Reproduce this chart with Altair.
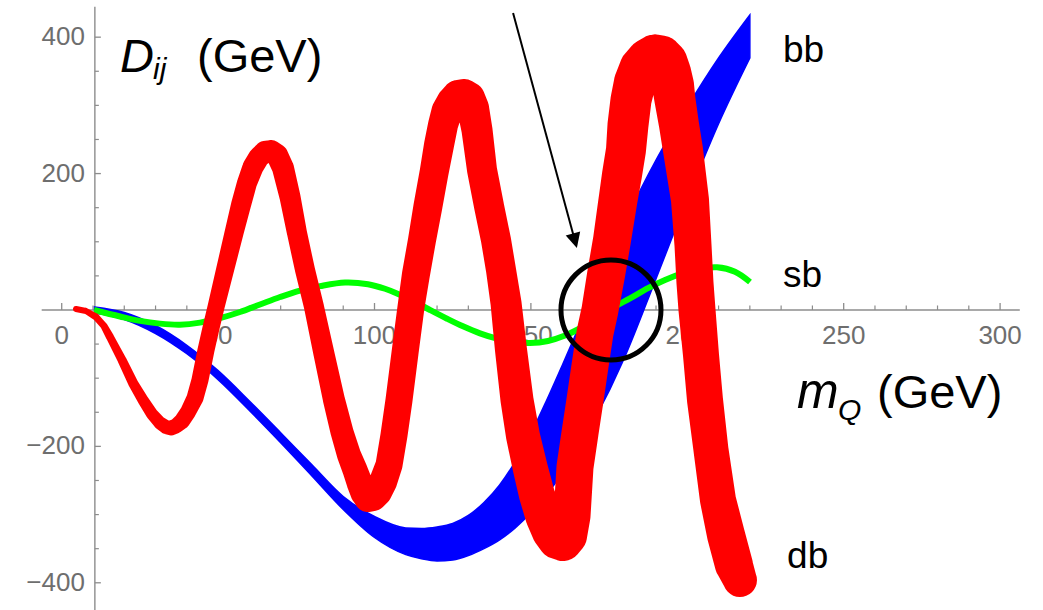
import math
import altair as alt
import pandas as pd

# ---------------- curve data ----------------
# sb : single thin curve
SB_X = [10.33, 18.64, 25.03, 31.43, 37.82, 44.21, 50.61, 57.0, 63.39, 69.79, 76.18, 82.58,
        90.57, 97.92, 103.36, 107.19, 112.31, 117.74, 123.18, 128.29, 133.73, 139.16, 144.28,
        149.71, 155.47, 160.9, 166.66, 172.09, 176.88, 181.68, 187.44, 192.87, 198.63,
        204.07, 209.5, 215.25, 220.05]
SB_Y = [0, -9.5, -16.0, -20.0, -21.5, -18.5, -12.0, -3.0, 8.0, 19.0, 28.5, 35.0,
        40.3, 37.8, 31.1, 24.3, 13.2, 0, -12.8, -24.0, -34.2, -42.0, -46.7,
        -48.4, -45.4, -37.4, -24.6, -9.5, 5.0, 17.0, 32.0, 44.0, 54.0,
        60.5, 62.5, 56.0, 41.0]

# bb : band between an upper and a lower edge
BB_X = [10.5, 20, 30, 40, 50, 60, 70, 80, 90, 100, 110, 115, 120, 125, 130, 135, 140, 145,
        150, 155, 160, 170, 180, 190, 200, 210, 220]
BB_HI = [4.4, -3.7, -22.7, -51.7, -89.0, -133.4, -179.9, -227.1, -273.5, -302.8, -319.6,
         -320.3, -318.1, -313.0, -301.3, -282.3, -256.6, -222.2, -181.2, -132.8, -81.4,
         24.9, 129.0, 219.9, 297.7, 369.5, 432.6]
BB_LO = [-4.4, -13.9, -34.5, -64.2, -102.2, -147.4, -194.6, -243.3, -292.5, -333.6, -358.7,
         -364.8, -368.1, -366.6, -360.1, -349.8, -336.9, -319.4, -297.4, -270.9, -239.5,
         -163.4, -69.1, 45.9, 162.9, 273.1, 369.5]

# db : band drawn as a trail (centre line and band width in pixels)
DB_X = [4.57, 7.77, 10.97, 13.52, 15.44, 19.28, 22.79, 25.99, 28.87, 31.43, 33.34, 34.94,
        36.54, 38.46, 40.38, 42.62, 44.21, 46.13, 47.73, 49.33, 52.21, 55.08, 57.32, 59.24,
        61.16, 63.08, 65.0, 66.91, 68.83, 70.75, 72.99, 75.22, 77.78, 80.66, 83.86, 87.05,
        89.61, 91.85, 93.77, 95.36, 96.64, 97.92, 99.52, 101.12, 102.72, 104.64, 106.24,
        107.84, 109.75, 111.67, 113.27, 115.19, 117.1, 119.02, 120.62, 121.9, 123.18,
        124.78, 126.69, 128.61, 130.21, 131.49, 132.77, 134.37, 136.6, 138.84, 140.44,
        142.04, 143.64, 145.56, 147.47, 149.71, 151.95, 154.19, 156.43, 158.35, 160.26,
        161.86, 163.14, 164.1, 165.7, 167.3, 168.89, 170.49, 172.09, 174.01, 175.93,
        177.85, 179.12, 180.4, 181.04, 182.0, 183.28, 185.2, 187.44, 189.67, 191.59,
        193.19, 194.47, 195.43, 196.07, 197.35, 198.63, 200.86, 201.82, 202.46, 203.1,
        204.38, 205.66, 207.58, 209.81, 212.37, 214.93, 216.84]
DB_Y = [1.5, -1.5, -10.3, -23.5, -39.6, -73.3, -107.0, -132.0, -152.5, -165.7, -171.6, -173.0,
        -170.1, -162.8, -149.6, -129.0, -102.6, -58.7, -26.4, 4.4, 58.7, 112.9, 154.0, 186.2,
        209.7, 224.3, 231.7, 233.1, 227.3, 208.2, 165.7, 112.9, 58.7, 4.4, -64.5, -132.0,
        -178.9, -212.6, -234.6, -255.1, -268.3, -275.7, -274.2, -266.9, -252.2, -227.3, -183.3,
        -132.0, -63.1, 4.4, 52.8, 102.6, 152.5, 200.9, 241.9, 271.3, 291.8,
        305.0, 313.8, 315.3, 310.9, 296.2, 263.9, 205.3, 152.5, 102.6, 58.7,
        10.3, -58.7, -132.0, -184.8, -230.2, -271.3, -303.5, -325.5, -337.3, -340.2,
        -331.4, -302.1, -230.2, -180.4, -132.0, -82.1, -33.7, 0.0, 51.3, 102.6,
        161.3, 198.0, 234.6, 271.3, 307.9, 334.3, 354.8, 366.6, 372.4, 371.0,
        363.7, 349.0, 329.9, 307.9, 271.3, 234.6, 161.3, 95.3, 39.6, 0.0,
        -66.0, -132.0, -205.3, -278.6, -329.9, -373.9, -395.9]
DB_W = [6, 6, 7, 7, 8, 9, 10, 11, 12, 13, 14, 15,
        15, 16, 16, 17, 17, 17, 17, 17, 18, 19, 20, 20,
        21, 21, 22, 22, 22, 22, 21, 20, 20, 20, 21, 22,
        23, 24, 25, 26, 27, 28, 28, 28, 28, 27, 27,
        27, 27, 27, 28, 28, 29, 29, 30, 30, 31,
        31, 32, 32, 32, 32, 31, 30, 30, 30, 30,
        31, 32, 33, 34, 35, 36, 37, 38, 38, 38,
        38, 37, 37, 37, 37, 37, 37, 37, 38, 38,
        39, 40, 40, 41, 41, 42, 43, 43, 43, 43,
        43, 42, 42, 41, 40, 40, 38, 37, 37, 37,
        36, 36, 35, 36, 38, 38, 34]

# ---------------- axes ----------------
X_MAJOR = [0, 50, 100, 150, 200, 250, 300]
X_MAJOR_LABELS = ["0", "50", "100", "150", "200", "250", "300"]
X_MINOR = [10, 20, 30, 40, 60, 70, 80, 90, 110, 120, 130, 140, 160, 170, 180, 190,
           210, 220, 230, 240, 260, 270, 280, 290]
Y_MAJOR = [-400, -200, 200, 400]
Y_MAJOR_LABELS = ["\u2212400", "\u2212200", "200", "400"]
Y_MINOR = [-350, -300, -250, -150, -100, -50, 50, 100, 150, 250, 300, 350]

AXIS_X0 = 10.6                 # mQ at which the vertical axis sits
X_AXIS_SPAN = [-6.4, 306.3]
Y_AXIS_SPAN = [-440.0, 444.5]

X_DOMAIN = [-19.73, 313.72]
Y_DOMAIN = [-439.9, 454.5]
W, H = 1043, 610

# curve names
NAMES = ["bb", "sb", "db"]
NAME_X = [230.6, 230.6, 231.9]
NAME_Y = [363.6, 33.7, -378.3]

# arrow and ring
ARROW_FROM = (144.3, 435.5)
ARROW_TO = (164.7, 90.9)
RING_AT = (175.6, 0.0)

FONT = "Liberation Sans"
AXIS_GREY = "#8c8c8c"
LABEL_GREY = "#6e6e6e"

xs = alt.Scale(domain=X_DOMAIN, nice=False, zero=False)
ys = alt.Scale(domain=Y_DOMAIN, nice=False, zero=False)


def X(field):
    return alt.X(field, type="quantitative", scale=xs, axis=None)


def Y(field):
    return alt.Y(field, type="quantitative", scale=ys, axis=None)


# axis lines
axis_df = pd.DataFrame({
    "x": [X_AXIS_SPAN[0], AXIS_X0], "x2": [X_AXIS_SPAN[1], AXIS_X0],
    "y": [0.0, Y_AXIS_SPAN[0]], "y2": [0.0, Y_AXIS_SPAN[1]],
})
axis_lines = alt.Chart(axis_df).mark_rule(color=AXIS_GREY, strokeWidth=1.4).encode(
    x=X("x"), x2="x2", y=Y("y"), y2="y2")

xt_major = alt.Chart(pd.DataFrame({"x": X_MAJOR, "y": 0.0})).mark_tick(
    orient="vertical", size=7, thickness=1.3, yOffset=-3.5, color=AXIS_GREY, opacity=1
).encode(x=X("x"), y=Y("y"))
xt_minor = alt.Chart(pd.DataFrame({"x": X_MINOR, "y": 0.0})).mark_tick(
    orient="vertical", size=4.5, thickness=1.2, yOffset=-2.25, color=AXIS_GREY, opacity=1
).encode(x=X("x"), y=Y("y"))
yt_major = alt.Chart(pd.DataFrame({"y": Y_MAJOR, "x": AXIS_X0})).mark_tick(
    orient="horizontal", size=6, thickness=1.3, xOffset=3, color=AXIS_GREY, opacity=1
).encode(x=X("x"), y=Y("y"))
yt_minor = alt.Chart(pd.DataFrame({"y": Y_MINOR, "x": AXIS_X0})).mark_tick(
    orient="horizontal", size=4, thickness=1.2, xOffset=2, color=AXIS_GREY, opacity=1
).encode(x=X("x"), y=Y("y"))

x_labels = alt.Chart(pd.DataFrame({"x": X_MAJOR, "y": 0.0, "t": X_MAJOR_LABELS})).mark_text(
    font=FONT, fontSize=26, color=LABEL_GREY, baseline="middle", align="center", dy=26
).encode(x=X("x"), y=Y("y"), text="t:N")
y_labels = alt.Chart(pd.DataFrame({"y": Y_MAJOR, "x": AXIS_X0, "t": Y_MAJOR_LABELS})).mark_text(
    font=FONT, fontSize=26, color=LABEL_GREY, baseline="middle", align="right", dx=-10
).encode(x=X("x"), y=Y("y"), text="t:N")

# curves
bb_df = pd.DataFrame({"x": BB_X, "hi": BB_HI, "lo": BB_LO})
bb = alt.Chart(bb_df).mark_area(
    color="#0000ff", interpolate="monotone", stroke="#0000ff", strokeWidth=1.5, opacity=1
).encode(x=X("x"), y=Y("hi"), y2="lo")

sb_df = pd.DataFrame({"x": SB_X, "y": SB_Y})
sb = alt.Chart(sb_df).mark_line(
    color="#00ff00", strokeWidth=6, interpolate="catmull-rom"
).encode(x=X("x"), y=Y("y"))

db_df = pd.DataFrame({"x": DB_X, "y": DB_Y, "w": DB_W, "i": list(range(len(DB_X)))})
db = alt.Chart(db_df).mark_trail(color="#ff0000", opacity=1).encode(
    x=X("x"), y=Y("y"), size=alt.Size("w:Q", scale=None), order="i:Q")

# curve names
names = alt.Chart(pd.DataFrame({"x": NAME_X, "y": NAME_Y, "t": NAMES})).mark_text(
    font=FONT, fontSize=37, color="black", align="left", baseline="alphabetic"
).encode(x=X("x"), y=Y("y"), text="t:N")

# arrow
fx, fy = ARROW_FROM
tx, ty = ARROW_TO
px_x = W / (X_DOMAIN[1] - X_DOMAIN[0])
px_y = H / (Y_DOMAIN[1] - Y_DOMAIN[0])
dxp, dyp = (tx - fx) * px_x, (fy - ty) * px_y
shaft_frac = 1 - 10.0 / math.hypot(dxp, dyp)
arrow_df = pd.DataFrame({"x": [fx], "y": [fy],
                         "x2": [fx + (tx - fx) * shaft_frac], "y2": [fy + (ty - fy) * shaft_frac]})
arrow_shaft = alt.Chart(arrow_df).mark_rule(color="black", strokeWidth=2).encode(
    x=X("x"), y=Y("y"), x2="x2", y2="y2")
head_angle = (-math.degrees(math.atan2(dxp, dyp))) % 360
arrow_head = alt.Chart(pd.DataFrame({"x": [tx], "y": [ty]})).mark_point(
    shape="M0,0L-0.5,-1L0.5,-1Z", size=900, filled=True, color="black", opacity=1,
    angle=head_angle, strokeWidth=0
).encode(x=X("x"), y=Y("y"))

ring = alt.Chart(pd.DataFrame({"x": [RING_AT[0]], "y": [RING_AT[1]]})).mark_point(
    shape="circle", size=10000, filled=False, color="black", strokeWidth=5, opacity=1
).encode(x=X("x"), y=Y("y"))


# axis titles
def label(text, x, y, size, italic=False):
    return alt.Chart(pd.DataFrame({"t": [text]})).mark_text(
        font=FONT, fontSize=size, color="black", align="left", baseline="alphabetic",
        fontStyle="italic" if italic else "normal"
    ).encode(x=alt.value(x), y=alt.value(y), text="t:N")


titles = [
    label("D", 120, 72, 47, True),
    label("ij", 153, 79, 30, True),
    label("(GeV)", 197, 72, 47),
    label("m", 797, 408, 50, True),
    label("Q", 838, 420, 30, True),
    label("(GeV)", 877, 408, 47),
]

chart = alt.layer(
    axis_lines, xt_major, xt_minor, yt_major, yt_minor, x_labels, y_labels,
    bb, sb, db, names, arrow_shaft, arrow_head, ring, *titles
).properties(
    width=W, height=H, autosize=alt.AutoSizeParams(type="none"), padding=0,
    background="white"
).configure_view(stroke=None)

chart.save("out.html", embed_options={"renderer": "svg", "actions": False})
